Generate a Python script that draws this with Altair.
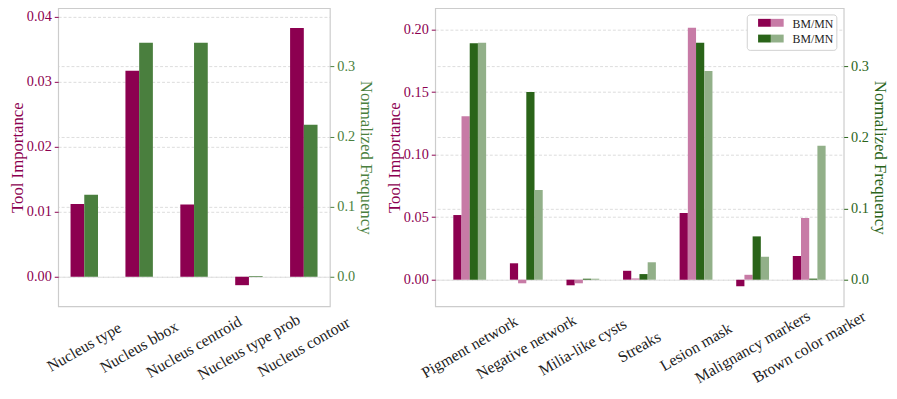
import altair as alt
import pandas as pd

# ---------------- data ----------------
left_cats = ["Nucleus type", "Nucleus bbox", "Nucleus centroid", "Nucleus type prob", "Nucleus contour"]
left_importance = [0.0112, 0.0317, 0.0111, -0.0013, 0.0383]
left_frequency = [0.117, 0.334, 0.334, 0.001, 0.217]

right_cats = ["Pigment network", "Negative network", "Milia-like cysts", "Streaks",
              "Lesion mask", "Malignancy markers", "Brown color marker"]
bm_importance = [0.0517, 0.0131, -0.0045, 0.0071, 0.0533, -0.0053, 0.0189]
mn_importance = [0.1307, -0.0029, -0.0029, 0.0010, 0.2016, 0.0039, 0.0494]
bm_frequency = [0.3324, 0.2640, 0.0014, 0.0079, 0.3333, 0.0609, 0.0015]
mn_frequency = [0.3333, 0.1260, 0.0014, 0.0245, 0.2936, 0.0323, 0.1884]

left_imp_ticks = [0.0, 0.01, 0.02, 0.03, 0.04]
left_freq_ticks = [0.0, 0.1, 0.2, 0.3]
right_imp_ticks = [0.0, 0.05, 0.10, 0.15, 0.20]
right_freq_ticks = [0.0, 0.1, 0.2, 0.3]

# ---------------- styles ----------------
MAROON = "#8c0050"
PINK = "#c77ba6"
DGREEN = "#2a6419"
LGREEN = "#92b089"
MGREEN = "#4a7f3e"
FONT = "Liberation Serif"

LW, RW, H = 276, 415, 303

L_IMP_DOM = [-0.00455, 0.04136]
L_FRQ_DOM = [-0.0421, 0.3834]
R_IMP_DOM = [-0.0213, 0.2173]
R_FRQ_DOM = [-0.0374, 0.382]

def y_axis(orient, color, values, fmt, title):
    return alt.Axis(orient=orient, values=values, format=fmt, title=title,
                    domain=False, ticks=True, tickSize=4, tickColor=color,
                    labelColor=color, labelFontSize=14.5, labelPadding=3,
                    titleColor=color, titleFontSize=17, titleFontWeight="normal",
                    titlePadding=0 if orient == "left" else 2,
                    grid=True, gridColor="#d4d4d4", gridDash=[3, 2], gridWidth=0.8)

def x_axis():
    return alt.Axis(title=None, domain=False, ticks=False, labelAngle=330,
                    labelAlign="center", labelBaseline="middle", labelPadding=41,
                    labelFontSize=16, labelColor="#222222", labelOverlap=False,
                    labelLimit=400)

def bars(df, cats, pi, po, dom, axis, color, width, offset):
    return alt.Chart(df).mark_bar(color=color, width=width, xOffset=offset).encode(
        x=alt.X("cat:N", sort=cats, scale=alt.Scale(paddingInner=pi, paddingOuter=po),
                axis=x_axis()),
        y=alt.Y("val:Q", scale=alt.Scale(domain=dom, nice=False), axis=axis))

# ---------------- left panel ----------------
l_pi, l_po = 0.5, 0.225
l_step = LW / (len(left_cats) - l_pi + 2 * l_po)
l_bar = l_step * (1 - l_pi) / 2

ldf_imp = pd.DataFrame({"cat": left_cats, "val": left_importance})
ldf_freq = pd.DataFrame({"cat": left_cats, "val": left_frequency})

left = alt.layer(
    bars(ldf_imp, left_cats, l_pi, l_po, L_IMP_DOM,
         y_axis("left", MAROON, left_imp_ticks, ".2f", "Tool Importance"),
         MAROON, l_bar, -0.5 * l_bar),
    bars(ldf_freq, left_cats, l_pi, l_po, L_FRQ_DOM,
         y_axis("right", MGREEN, left_freq_ticks, ".1f", "Normalized Frequency"),
         MGREEN, l_bar, 0.5 * l_bar),
).resolve_scale(y="independent").properties(width=LW, height=H)

# ---------------- right panel ----------------
r_pi, r_po = 0.42, 0.32
r_step = RW / (len(right_cats) - r_pi + 2 * r_po)
r_bar = r_step * (1 - r_pi) / 4

one = alt.Data(values=[{"k": 1}])

def rect(x1, x2, y1, y2, fill, stroke=None, radius=0):
    kw = dict(fill=fill)
    if stroke:
        kw.update(stroke=stroke, strokeWidth=1)
    if radius:
        kw.update(cornerRadius=radius)
    return alt.Chart(one).mark_rect(**kw).encode(
        x=alt.value(x1), x2=alt.value(x2), y=alt.value(y1), y2=alt.value(y2))

def label(x, y, txt):
    return alt.Chart(one).mark_text(align="left", baseline="middle", fontSize=12,
                                    font=FONT, color="#222222").encode(
        x=alt.value(x), y=alt.value(y), text=alt.value(txt))

legend_layers = [
    rect(317, 408, 7, 43, "white", "#d0d0d0", 3),
    rect(328, 341, 11, 19, MAROON), rect(341, 354, 11, 19, PINK),
    rect(328, 341, 27, 35, DGREEN), rect(341, 354, 27, 35, LGREEN),
    label(363, 16, "BM/MN"), label(363, 32, "BM/MN"),
]

def rdf(vals):
    return pd.DataFrame({"cat": right_cats, "val": vals})

right = alt.layer(
    bars(rdf(bm_importance), right_cats, r_pi, r_po, R_IMP_DOM,
         y_axis("left", MAROON, right_imp_ticks, ".2f", "Tool Importance"),
         MAROON, r_bar, -1.5 * r_bar),
    bars(rdf(mn_importance), right_cats, r_pi, r_po, R_IMP_DOM, None,
         PINK, r_bar, -0.5 * r_bar),
    bars(rdf(bm_frequency), right_cats, r_pi, r_po, R_FRQ_DOM,
         y_axis("right", DGREEN, right_freq_ticks, ".1f", "Normalized Frequency"),
         DGREEN, r_bar, 0.5 * r_bar),
    bars(rdf(mn_frequency), right_cats, r_pi, r_po, R_FRQ_DOM, None,
         LGREEN, r_bar, 1.5 * r_bar),
    *legend_layers,
).resolve_scale(y="independent").properties(width=RW, height=H)

chart = alt.hconcat(left, right, spacing=10).properties(
    padding={"left": 0, "top": -4, "right": 0, "bottom": 0}
).configure(font=FONT).configure_view(stroke="#cccccc", strokeWidth=1.2)

chart.save("out.html", embed_options={"renderer": "svg", "actions": False})
